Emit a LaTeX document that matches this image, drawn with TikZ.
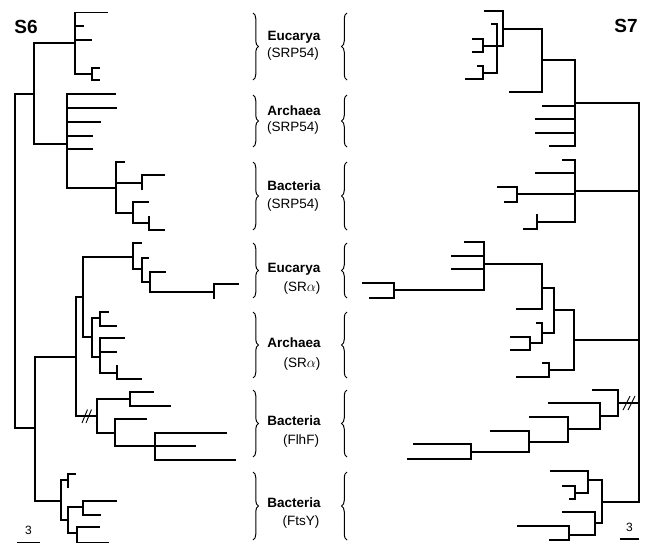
\documentclass[tikz,border=0pt]{standalone}
\usepackage{fontspec}
\setmainfont{Liberation Sans}
\usetikzlibrary{decorations.pathreplacing}
\begin{document}
\begin{tikzpicture}[x=1pt,y=-1pt,
  br/.style={line width=1.7pt,line cap=rect},
  slashmark/.style={line width=0.9pt},
  bracel/.style={line width=1pt,decorate,decoration={brace,amplitude=5.5pt}},
  bw/.style={inner sep=0pt,font=\fontsize{13.5}{15}\selectfont\bfseries,text height=0.72em,text depth=0.2em},
  pw/.style={inner sep=0pt,font=\fontsize{13.5}{15}\selectfont,text height=0.72em,text depth=0.2em},
  title/.style={inner sep=0pt,font=\fontsize{19}{20}\selectfont\bfseries},
  scalelab/.style={inner sep=0pt,font=\fontsize{12}{13}\selectfont}]
\useasboundingbox (0,0) rectangle (646,544);
% ---------------- left tree S6 ----------------
\coordinate (R6) at (15,94);
\coordinate (A1) at (34,94);
\coordinate (E1) at (75,43);
\coordinate (e1l1) at (107,12.5);
\coordinate (e1l2) at (83,26);
\coordinate (e1l3) at (91,40);
\coordinate (e1b) at (92,74);
\coordinate (e1l4) at (99,68);
\coordinate (e1l5) at (99,80);
\coordinate (AR1) at (67,144);
\coordinate (ar1l1) at (115,94);
\coordinate (ar1l2) at (116,108);
\coordinate (ar1l3) at (100,122);
\coordinate (ar1l4) at (92,136);
\coordinate (ar1l5) at (92,149);
\coordinate (B1) at (116,188);
\coordinate (b1l1) at (124,162);
\coordinate (b1a) at (142,183);
\coordinate (b1l2) at (164,175);
\coordinate (b1l3) at (142,189);
\coordinate (b1b) at (133,213);
\coordinate (b1l4) at (148,202);
\coordinate (b1c) at (149,223);
\coordinate (b1l5) at (149,217);
\coordinate (b1l6) at (164,230);
\coordinate (A2) at (35,428);
\coordinate (S2) at (76,357);
\coordinate (S3) at (83,297);
\coordinate (EU2) at (133,257);
\coordinate (eu2l1) at (141,243);
\coordinate (eu2a) at (142,269);
\coordinate (eu2l2) at (148,258);
\coordinate (eu2b) at (150,282);
\coordinate (eu2l3) at (165,272);
\coordinate (eu2c) at (214,292);
\coordinate (eu2l4) at (238,284);
\coordinate (eu2l5) at (214,298);
\coordinate (AR2) at (92,337);
\coordinate (ar2a) at (100,318);
\coordinate (ar2l1) at (108,312);
\coordinate (ar2l2) at (116,326);
\coordinate (ar2b) at (100,357);
\coordinate (ar2l3) at (124,338);
\coordinate (ar2l4) at (116,352);
\coordinate (ar2c) at (117,373);
\coordinate (ar2l5) at (117,366);
\coordinate (ar2l6) at (141,379);
\coordinate (FL) at (97,416);
\coordinate (fl1) at (130,399);
\coordinate (fll1) at (153,392);
\coordinate (fll2) at (170,406);
\coordinate (fl2) at (115,433);
\coordinate (fll3) at (146,419);
\coordinate (fl3) at (155,446);
\coordinate (fll4) at (226,433);
\coordinate (fll5) at (195,446);
\coordinate (fll6) at (235,460);
\coordinate (F1) at (61,501);
\coordinate (ft1) at (68,480);
\coordinate (ftl1) at (75,474);
\coordinate (ftl2) at (68,487);
\coordinate (ft2) at (68,520);
\coordinate (ft3) at (83,507);
\coordinate (ftl3) at (116,501);
\coordinate (ftl4) at (100,515);
\coordinate (ft4) at (77,533);
\coordinate (ftl5) at (99,527);
\coordinate (ftl6) at (108,542.5);
\foreach \p/\c in {R6/A1,A1/E1,E1/e1l1,E1/e1l2,E1/e1l3,E1/e1b,e1b/e1l4,e1b/e1l5,
  A1/AR1,AR1/ar1l1,AR1/ar1l2,AR1/ar1l3,AR1/ar1l4,AR1/ar1l5,AR1/B1,
  B1/b1l1,B1/b1a,b1a/b1l2,b1a/b1l3,B1/b1b,b1b/b1l4,b1b/b1c,b1c/b1l5,b1c/b1l6,
  R6/A2,A2/S2,S2/S3,S3/EU2,EU2/eu2l1,EU2/eu2a,eu2a/eu2l2,eu2a/eu2b,eu2b/eu2l3,eu2b/eu2c,eu2c/eu2l4,eu2c/eu2l5,
  S3/AR2,AR2/ar2a,ar2a/ar2l1,ar2a/ar2l2,AR2/ar2b,ar2b/ar2l3,ar2b/ar2l4,ar2b/ar2c,ar2c/ar2l5,ar2c/ar2l6,
  S2/FL,FL/fl1,fl1/fll1,fl1/fll2,FL/fl2,fl2/fll3,fl2/fl3,fl3/fll4,fl3/fll5,fl3/fll6,
  A2/F1,F1/ft1,ft1/ftl1,ft1/ftl2,F1/ft2,ft2/ft3,ft3/ftl3,ft3/ftl4,ft2/ft4,ft4/ftl5,ft4/ftl6}
  \draw[br] (\p) |- (\c);
\coordinate (sl1a) at (82,423); \coordinate (sl1b) at (87.5,409.5);
\coordinate (sl2a) at (86,423); \coordinate (sl2b) at (91.5,409.5);
\draw[slashmark] (sl1a) -- (sl1b);
\draw[slashmark] (sl2a) -- (sl2b);
\node[title] (S6) at (26,27) {S6};
\coordinate (sbl1) at (17,542.5); \coordinate (sbl2) at (40,542.5);
\draw[br,line cap=butt] (sbl1) -- (sbl2);
\node[scalelab] (sb6) at (28.5,530) {3};
% ---------------- right tree S7 ----------------
\coordinate (R7) at (639,103);
\coordinate (rD) at (575,103);
\coordinate (rC) at (542,60);
\coordinate (rB) at (503,29);
\coordinate (rbl1) at (485,11);
\coordinate (rA) at (497,46);
\coordinate (ral1) at (492,24);
\coordinate (ra1) at (483,46);
\coordinate (ral2) at (473,39);
\coordinate (ral3) at (473,52);
\coordinate (ra2) at (483,73);
\coordinate (ral4) at (478,66);
\coordinate (ral5) at (466,79);
\coordinate (rcl1) at (510,92);
\coordinate (rdl1) at (543,106);
\coordinate (rdl2) at (536,119);
\coordinate (rdl3) at (536,133);
\coordinate (rdl4) at (550,146);
\coordinate (rE) at (575,191);
\coordinate (rel1) at (563,160);
\coordinate (rel2) at (536,173);
\coordinate (re1) at (517,194);
\coordinate (rel3) at (498,187);
\coordinate (rel4) at (505,202);
\coordinate (re2) at (537,222);
\coordinate (rel5) at (537,215);
\coordinate (rel6) at (524,229);
\coordinate (rI) at (574,340);
\coordinate (rH) at (554,310);
\coordinate (rG) at (542,288);
\coordinate (rF) at (484,264);
\coordinate (rFl1) at (465,242);
\coordinate (rFl2) at (452,256);
\coordinate (rFl3) at (452,269);
\coordinate (rf1) at (394,290);
\coordinate (rf1l1) at (363,283);
\coordinate (rf1l2) at (370,298);
\coordinate (rGl) at (517,309);
\coordinate (rh2) at (542,333);
\coordinate (rh2l) at (537,323);
\coordinate (rh3) at (530,343);
\coordinate (rh3l1) at (511,337);
\coordinate (rh3l2) at (511,350);
\coordinate (ri2) at (549,370);
\coordinate (ri2l1) at (543,363);
\coordinate (ri2l2) at (517,377);
\coordinate (rK) at (618,403);
\coordinate (rKl) at (593,390);
\coordinate (rk1) at (600,416);
\coordinate (rk1l) at (549,403);
\coordinate (rk2) at (568,429);
\coordinate (rk2l) at (530,417);
\coordinate (rk3) at (529,442);
\coordinate (rk3l) at (491,431);
\coordinate (rk4) at (471,452);
\coordinate (rk4l1) at (414,444);
\coordinate (rk4l2) at (408,459);
\coordinate (rJ) at (602,502);
\coordinate (rj1) at (588,480);
\coordinate (rj1l) at (551,471);
\coordinate (rj3) at (575,493);
\coordinate (rj3l1) at (563,486);
\coordinate (rj3l2) at (570,499);
\coordinate (rj2) at (595,523);
\coordinate (rj2l) at (563,512);
\coordinate (rj4) at (569,535);
\coordinate (rj4l1) at (518,526);
\coordinate (rj4l2) at (550,540);
\foreach \p/\c in {R7/rD,rD/rC,rC/rB,rB/rbl1,rB/rA,rA/ral1,rA/ra1,ra1/ral2,ra1/ral3,rA/ra2,ra2/ral4,ra2/ral5,
  rC/rcl1,rD/rdl1,rD/rdl2,rD/rdl3,rD/rdl4,
  R7/rE,rE/rel1,rE/rel2,rE/re1,re1/rel3,re1/rel4,rE/re2,re2/rel5,re2/rel6,
  R7/rI,rI/rH,rH/rG,rG/rF,rF/rFl1,rF/rFl2,rF/rFl3,rF/rf1,rf1/rf1l1,rf1/rf1l2,rG/rGl,
  rH/rh2,rh2/rh2l,rh2/rh3,rh3/rh3l1,rh3/rh3l2,rI/ri2,ri2/ri2l1,ri2/ri2l2,
  R7/rK,rK/rKl,rK/rk1,rk1/rk1l,rk1/rk2,rk2/rk2l,rk2/rk3,rk3/rk3l,rk3/rk4,rk4/rk4l1,rk4/rk4l2,
  R7/rJ,rJ/rj1,rj1/rj1l,rj1/rj3,rj3/rj3l1,rj3/rj3l2,rJ/rj2,rj2/rj2l,rj2/rj4,rj4/rj4l1,rj4/rj4l2}
  \draw[br] (\p) |- (\c);
\coordinate (sr1a) at (623,410); \coordinate (sr1b) at (630,396);
\coordinate (sr2a) at (628,410); \coordinate (sr2b) at (635,396);
\draw[slashmark] (sr1a) -- (sr1b);
\draw[slashmark] (sr2a) -- (sr2b);
\node[title] (S7) at (626,26) {S7};
\coordinate (sbr1) at (620,539); \coordinate (sbr2) at (639,539);
\draw[br,line cap=butt] (sbr1) -- (sbr2);
\node[scalelab] (sb7) at (629.5,527) {3};
% ---------------- middle labels ----------------
\foreach \t/\b in {13/80,95/147,162/230,243/298,312/378,390/457,472/540}{
  \draw[bracel] (253,\t) -- (253,\b);
  \draw[bracel] (347,\b) -- (347,\t);
}
\node[bw] (t1a) at (294,38) {Eucarya};
\node[pw] (t1b) at (293,55) {(SRP54)};
\node[bw] (t2a) at (294,113) {Archaea};
\node[pw] (t2b) at (293,129) {(SRP54)};
\node[bw] (t3a) at (294,188) {Bacteria};
\node[pw] (t3b) at (293,206) {(SRP54)};
\node[bw] (t4a) at (294,270) {Eucarya};
\node[pw] (t4b) at (302,289) {(SR$\alpha$)};
\node[bw] (t5a) at (294,345) {Archaea};
\node[pw] (t5b) at (302,365) {(SR$\alpha$)};
\node[bw] (t6a) at (294,423) {Bacteria};
\node[pw] (t6b) at (301,442) {(FlhF)};
\node[bw] (t7a) at (294,505) {Bacteria};
\node[pw] (t7b) at (301,523) {(FtsY)};
\end{tikzpicture}
\end{document}
